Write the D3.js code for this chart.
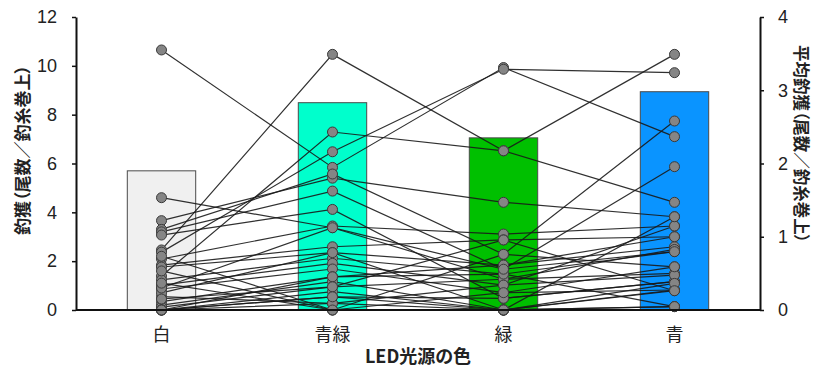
<!DOCTYPE html>
<html>
<head>
<meta charset="utf-8">
<script src="https://cdn.jsdelivr.net/npm/d3@7"></script>
<style>
  html, body { margin: 0; padding: 0; background: #fff; }
  svg { display: block; }
  text { fill: #222; }
  .cjk { font-family: 'Noto Sans CJK JP', sans-serif; font-feature-settings: "palt"; }
</style>
</head>
<body>
<svg id="chart" width="818" height="368"></svg>
<script>
// LED light colour categories
const colors = ["白", "青緑", "緑", "青"];
const barFills = ["#f0f0f0", "#00ffcc", "#00c000", "#0a94ff"];

// Mean catch per light colour (right axis)
const meanCatch = [1.90, 2.83, 2.35, 2.98];

// Catch of each trial under each light colour (left axis); index i is one trial
const whiteCatch     = [10.65, 2.46, 1.39, 2.37, 4.60, 3.66, 3.30, 3.20, 3.07, 2.09, 1.84, 1.76, 1.23, 1.02, 0.86, 0.34, 0.20, 0.12, 0.00, 0.00, 0.55, 2.20, 1.60, 0.70, 0.00, 0.00, 0.90, 1.10, 0.45, 0.00];
const blueGreenCatch = [5.84, 10.47, 7.29, 6.48, 3.37, 5.40, 5.57, 4.87, 4.12, 3.44, 2.59, 2.35, 2.12, 1.91, 1.68, 1.36, 1.16, 0.95, 0.75, 0.54, 0.27, 0.00, 0.00, 2.35, 1.36, 0.27, 3.37, 0.00, 0.95, 0.54];
const greenCatch     = [9.93, 6.52, 6.52, 9.86, 1.26, 4.41, 2.28, 1.67, 0.48, 3.11, 2.87, 1.84, 1.47, 1.02, 0.71, 1.84, 0.00, 1.26, 0.00, 0.48, 1.02, 0.71, 2.28, 0.00, 1.47, 0.00, 1.67, 0.00, 2.87, 0.00];
const blueCatch      = [7.10, 10.47, 4.41, 9.72, 1.50, 3.82, 7.74, 5.87, 1.16, 3.44, 3.00, 2.59, 2.39, 3.44, 1.77, 3.00, 0.79, 2.48, 0.14, 1.16, 1.43, 0.82, 1.77, 0.82, 0.14, 1.09, 2.39, 3.82, 0.79, 0.14];

const leftTicks = [0, 2, 4, 6, 8, 10, 12];
const rightTicks = [0, 1, 2, 3, 4];

const svg = d3.select("#chart");
const m = { left: 76, right: 58, top: 17, bottom: 58 };
const W = 818, H = 368;

const x = d3.scaleBand().domain(colors).range([m.left, W - m.right]).paddingInner(0.6).paddingOuter(0.3);
const yL = d3.scaleLinear().domain([0, 12]).range([H - m.bottom, m.top]);
const yR = d3.scaleLinear().domain([0, 4]).range([H - m.bottom, m.top]);
const cx = d => x(d) + x.bandwidth() / 2;

// Bars of the mean catch
svg.append("g").selectAll("rect").data(colors).join("rect")
  .attr("x", d => x(d))
  .attr("width", x.bandwidth())
  .attr("y", (d, i) => yR(meanCatch[i]))
  .attr("height", (d, i) => yR(0) - yR(meanCatch[i]))
  .attr("fill", (d, i) => barFills[i])
  .attr("stroke", "#4a4a4a")
  .attr("stroke-width", 1);

// One line per trial across the four colours
const series = [whiteCatch, blueGreenCatch, greenCatch, blueCatch];
const trials = whiteCatch.map((_, i) => colors.map((c, k) => ({ c, v: series[k][i] })));
const line = d3.line().x(d => cx(d.c)).y(d => yL(d.v));

svg.append("g").selectAll("path").data(trials).join("path")
  .attr("d", line)
  .attr("fill", "none")
  .attr("stroke", "#1a1a1a")
  .attr("stroke-opacity", 0.9)
  .attr("stroke-width", 1.2);

svg.append("g").selectAll("circle").data(trials.flat()).join("circle")
  .attr("cx", d => cx(d.c))
  .attr("cy", d => yL(d.v))
  .attr("r", 5)
  .attr("fill", "#858585")
  .attr("stroke", "#3a3a3a")
  .attr("stroke-width", 1);

// Axes
const axisStyle = g => {
  g.select(".domain").attr("stroke", "#111").attr("stroke-width", 2);
  g.selectAll(".tick line").attr("stroke", "#111").attr("stroke-width", 1.5);
  g.selectAll(".tick text").attr("font-family", "'Liberation Sans', Arial, sans-serif").attr("font-size", 18).attr("fill", "#222");
};

svg.append("g").attr("transform", `translate(${m.left},0)`)
  .call(d3.axisLeft(yL).tickValues(leftTicks).tickFormat(d3.format("d")).tickSize(4).tickSizeOuter(0).tickPadding(15))
  .call(axisStyle);

svg.append("g").attr("transform", `translate(${W - m.right},0)`)
  .call(d3.axisRight(yR).tickValues(rightTicks).tickFormat(d3.format("d")).tickSize(4).tickSizeOuter(0).tickPadding(14))
  .call(axisStyle);

// Baseline across the full plot width
svg.append("line")
  .attr("x1", m.left).attr("x2", W - m.right)
  .attr("y1", yL(0)).attr("y2", yL(0))
  .attr("stroke", "#111").attr("stroke-width", 2);

// Category labels
svg.append("g").selectAll("text").data(colors).join("text")
  .attr("class", "cjk")
  .attr("x", d => cx(d))
  .attr("y", 333)
  .attr("text-anchor", "middle")
  .attr("dominant-baseline", "central")
  .attr("font-size", 18)
  .text(d => d);

// Axis titles
svg.append("text")
  .attr("class", "cjk")
  .attr("x", 418).attr("y", 355)
  .attr("text-anchor", "middle")
  .attr("dominant-baseline", "central")
  .attr("font-size", 18).attr("font-weight", "bold")
  .text("LED光源の色");

svg.append("text")
  .attr("class", "cjk")
  .attr("transform", "translate(21,150) rotate(-90)")
  .attr("text-anchor", "middle")
  .attr("dominant-baseline", "central")
  .attr("font-size", 17).attr("font-weight", "bold")
  .text("釣獲（尾数／釣糸巻上）");

svg.append("text")
  .attr("class", "cjk")
  .attr("transform", "translate(802,144) rotate(90)")
  .attr("text-anchor", "middle")
  .attr("dominant-baseline", "central")
  .attr("font-size", 16.5).attr("font-weight", "bold")
  .text("平均釣獲（尾数／釣糸巻上）");
</script>
</body>
</html>
